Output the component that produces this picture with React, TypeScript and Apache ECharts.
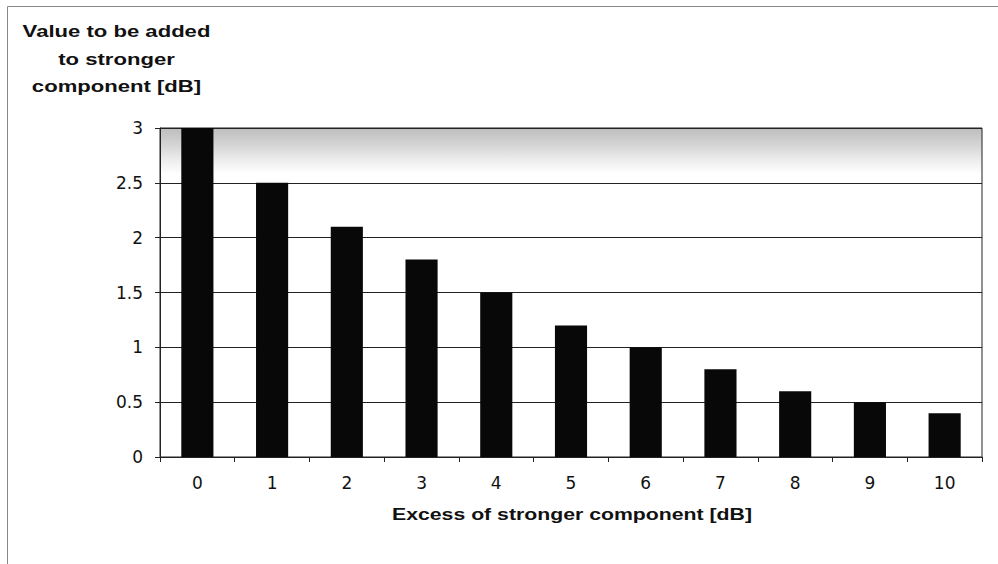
import React, { useEffect, useRef } from "react";
import * as echarts from "echarts";

const categories = ["0", "1", "2", "3", "4", "5", "6", "7", "8", "9", "10"];
const addedValues = [3, 2.5, 2.1, 1.8, 1.5, 1.2, 1.0, 0.8, 0.6, 0.5, 0.4];
const yTicks = { min: 0, max: 3, interval: 0.5 };
const yAxisTitle = "Value to be added\nto stronger\ncomponent [dB]";
const xAxisTitle = "Excess of stronger component [dB]";

export default function App() {
  const ref = useRef<HTMLDivElement>(null);
  useEffect(() => {
    if (!ref.current) return;
    const chart = echarts.init(ref.current, null, { renderer: "svg" });
    const titleFont = "'Liberation Sans', Arial, sans-serif";
    const tickFont = "'DejaVu Sans', sans-serif";
    chart.setOption({
      animation: false,
      backgroundColor: "#ffffff",
      grid: {
        left: 160,
        right: 16,
        top: 128,
        bottom: 107,
        show: true,
        borderColor: "#222",
        borderWidth: 1,
        backgroundColor: new echarts.graphic.LinearGradient(0, 0, 0, 1, [
          { offset: 0, color: "#bdbdbd" },
          { offset: 0.05, color: "#d4d4d4" },
          { offset: 0.1, color: "#eeeeee" },
          { offset: 0.14, color: "#ffffff" },
          { offset: 1, color: "#ffffff" },
        ]),
      },
      graphic: [
        {
          type: "rect",
          shape: { x: 7.5, y: 6.5, width: 1200, height: 1000 },
          style: { fill: "none", stroke: "#888", lineWidth: 1 },
          z: -1,
        },
        {
          type: "text",
          x: 116.5,
          y: 17.5,
          scaleX: 1.3,
          style: {
            text: yAxisTitle,
            font: `bold 17px ${titleFont}`,
            fill: "#111",
            align: "center",
            verticalAlign: "top",
            lineHeight: 27.5,
          },
        },
        {
          type: "text",
          x: 572,
          y: 514,
          scaleX: 1.25,
          style: {
            text: xAxisTitle,
            font: `bold 17px ${titleFont}`,
            fill: "#111",
            align: "center",
            verticalAlign: "middle",
          },
        },
      ],
      xAxis: {
        type: "category",
        data: categories,
        boundaryGap: true,
        axisLine: { lineStyle: { color: "#222", width: 1 } },
        axisTick: { show: true, length: 5, lineStyle: { color: "#222" } },
        axisLabel: { fontFamily: tickFont, fontSize: 17, color: "#111", margin: 17 },
      },
      yAxis: {
        type: "value",
        min: yTicks.min,
        max: yTicks.max,
        interval: yTicks.interval,
        axisLine: { show: true, lineStyle: { color: "#222" } },
        axisTick: { show: true, length: 5, lineStyle: { color: "#222" } },
        axisLabel: { fontFamily: tickFont, fontSize: 17, color: "#111", margin: 17 },
        splitLine: { show: true, lineStyle: { color: "#222", width: 1 } },
      },
      series: [
        {
          type: "bar",
          data: addedValues,
          barWidth: "43%",
          itemStyle: { color: "#080808" },
        },
      ],
    });
    return () => chart.dispose();
  }, []);
  return (
    <div
      ref={ref}
      style={{ position: "fixed", left: 0, top: 0, width: 998, height: 564 }}
    />
  );
}
